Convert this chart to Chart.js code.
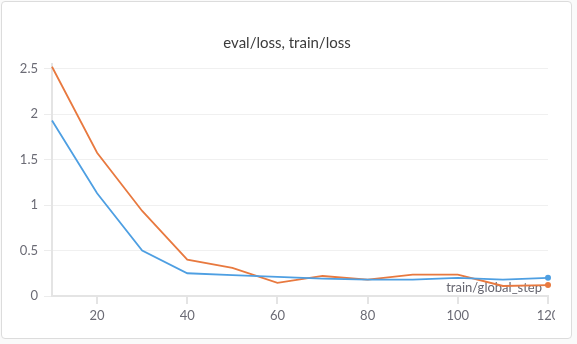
<!DOCTYPE html>
<html>
<head>
<meta charset="utf-8">
<script src="https://cdn.jsdelivr.net/npm/chart.js@4"></script>
<style>
  body { margin: 0; background: #fafafa; width: 577px; height: 344px; overflow: hidden; position: relative; }
  #card { position: absolute; left: 1px; top: 1px; width: 569px; height: 336px; border: 1px solid #dcdcdc; border-radius: 4px; background: #fff; }
  #clip { position: absolute; left: 0; top: 0; width: 555px; height: 344px; overflow: hidden; }
  #box { position: absolute; left: 0; top: 0; width: 600px; height: 344px; }
</style>
</head>
<body>
<div id="card"></div>
<div id="clip"><div id="box"><canvas id="lossChart"></canvas></div></div>
<script>
// data
let steps = [10, 20, 30, 40, 50, 60, 70, 80, 90, 100, 110, 120]
let evalLoss = [1.93, 1.13, 0.50, 0.25, 0.23, 0.21, 0.19, 0.18, 0.18, 0.20, 0.18, 0.20]
let trainLoss = [2.52, 1.575, 0.935, 0.40, 0.31, 0.145, 0.22, 0.18, 0.235, 0.235, 0.11, 0.12]
let xTicks = [20, 40, 60, 80, 100, 120]
let yTicks = [0, 0.5, 1, 1.5, 2, 2.5]

let titleText = 'eval/loss, train/loss'
let xTitle = 'train/global_step'

let fontFamily = 'Lato, "Noto Sans", sans-serif'

// only the last point gets a dot
function lastDot(arr) {
    return arr.map((v, i) => i === arr.length - 1 ? 3 : 0)
}

function toPoints(values) {
    return values.map((v, i) => ({ x: steps[i], y: v }))
}

// title and the x axis name are drawn by hand so they sit where the reference has them
let labelsPlugin = {
    id: 'labels',
    beforeDatasetsDraw(chart) {
        let c = chart.ctx
        c.save()
        c.font = '13px ' + fontFamily
        c.fillStyle = '#666670'
        c.textAlign = 'right'
        c.textBaseline = 'alphabetic'
        c.fillText(xTitle, 542, 292)
        c.restore()
    },
    afterDraw(chart) {
        let c = chart.ctx
        c.save()
        c.font = '15px ' + fontFamily
        c.fillStyle = '#3b3b3b'
        c.textAlign = 'center'
        c.textBaseline = 'middle'
        c.fillText(titleText, 287, 43)
        c.restore()
    }
}

let ctx = document.querySelector('#lossChart').getContext('2d')

let lossChart = new Chart(ctx, {
    type: 'line',
    data: {
        datasets: [
            {
                label: 'eval/loss',
                data: toPoints(evalLoss),
                borderColor: '#4e9fe2',
                backgroundColor: '#4e9fe2',
                borderWidth: 1.8,
                pointRadius: lastDot(evalLoss),
                pointBorderWidth: 0,
                tension: 0,
                clip: false
            },
            {
                label: 'train/loss',
                data: toPoints(trainLoss),
                borderColor: '#e8793f',
                backgroundColor: '#e8793f',
                borderWidth: 1.8,
                pointRadius: lastDot(trainLoss),
                pointBorderWidth: 0,
                tension: 0,
                clip: false
            }
        ]
    },
    options: {
        responsive: true,
        maintainAspectRatio: false,
        animation: false,
        layout: { padding: { top: 64, right: 52, left: 0, bottom: 0 } },
        plugins: {
            legend: { display: false },
            title: { display: false },
            tooltip: { enabled: false }
        },
        scales: {
            x: {
                type: 'linear',
                min: 10,
                max: 120,
                afterBuildTicks: s => { s.ticks = xTicks.map(v => ({ value: v })) },
                afterFit: s => { s.height = 48 },
                grid: { drawOnChartArea: false, tickLength: 8, color: '#e4e4e4', lineWidth: 2 },
                border: { color: '#e4e4e4', width: 2 },
                ticks: { color: '#6b6b75', font: { family: fontFamily, size: 13 }, padding: 4, maxRotation: 0 }
            },
            y: {
                min: 0,
                max: 2.55,
                afterBuildTicks: s => { s.ticks = yTicks.map(v => ({ value: v })) },
                afterFit: s => { s.width = 52 },
                grid: { color: '#f0f0f0', tickColor: '#ececec', tickLength: 8, lineWidth: 1 },
                border: { color: '#e4e4e4', width: 2 },
                ticks: {
                    color: '#6b6b75',
                    font: { family: fontFamily, size: 13 },
                    padding: 6,
                    callback: v => String(v)
                }
            }
        }
    },
    plugins: [labelsPlugin]
})
</script>
</body>
</html>
